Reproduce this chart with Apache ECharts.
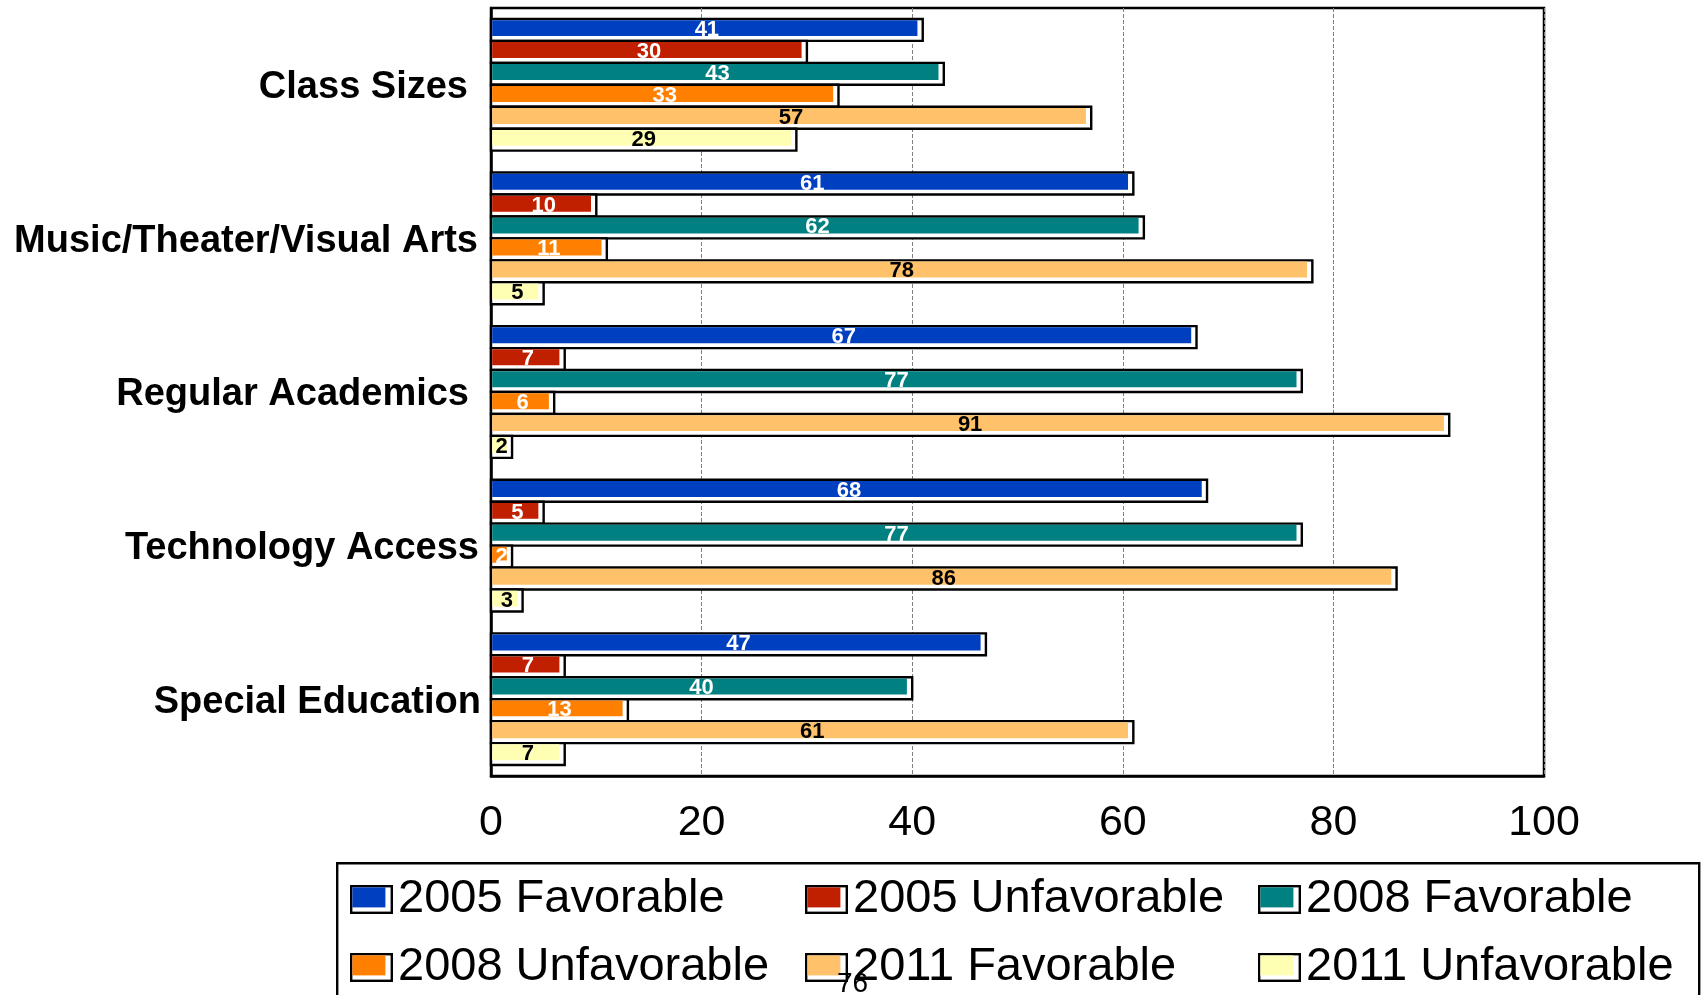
<!DOCTYPE html>
<html>
<head>
<meta charset="utf-8">
<script src="https://cdn.jsdelivr.net/npm/echarts@6/dist/echarts.min.js"></script>
<style>
  html, body { margin: 0; padding: 0; background: #fff; }
  #chart { width: 1701px; height: 995px; }
</style>
</head>
<body>
<div id="chart"></div>
<script>
// Survey areas, top to bottom
const categories = ['Class Sizes', 'Music/Theater/Visual Arts', 'Regular Academics', 'Technology Access', 'Special Education'];

// Percent responses per area
const fav2005   = [41, 61, 67, 68, 47];
const unfav2005 = [30, 10, 7, 5, 7];
const fav2008   = [43, 62, 77, 77, 40];
const unfav2008 = [33, 11, 6, 2, 13];
const fav2011   = [57, 78, 91, 86, 61];
const unfav2011 = [29, 5, 2, 3, 7];

const seriesNames = ['2005 Favorable', '2005 Unfavorable', '2008 Favorable', '2008 Unfavorable', '2011 Favorable', '2011 Unfavorable'];
const seriesValues = [fav2005, unfav2005, fav2008, unfav2008, fav2011, unfav2011];
const xTicks = [0, 20, 40, 60, 80, 100];

const colors = ['#0040C0', '#C02000', '#008080', '#FF8000', '#FFC16A', '#FFFFB4'];
const labelColors = ['#fff', '#fff', '#fff', '#fff', '#000', '#000'];
const FONT = '"Liberation Sans", Arial, Helvetica, sans-serif';

// Boxed legend swatch: black frame, colour block with a white strip right and below
function swatch(color) {
  const svg = "<svg xmlns='http://www.w3.org/2000/svg' width='43' height='29'>" +
    "<rect x='1.2' y='1.2' width='40.6' height='26.6' fill='#fff' stroke='#000' stroke-width='2.4'/>" +
    "<rect x='2.4' y='2.4' width='33' height='20' fill='" + color + "'/></svg>";
  return 'image://data:image/svg+xml;charset=utf-8,' + encodeURIComponent(svg);
}

function makeSeries(i) {
  return {
    type: 'custom',
    name: seriesNames[i],
    itemStyle: { color: colors[i] },
    data: seriesValues[i].map((v, j) => [v, j]),
    renderItem: function (params, api) {
      const v = api.value(0);
      const j = api.value(1);
      const p0 = api.coord([0, j]);
      const p1 = api.coord([v, j]);
      const band = api.size([0, 1])[1];
      const h = band / 7;
      const y0 = p0[1] - 3 * h + i * h;
      const x0 = p0[0];
      const x1 = p1[0];
      const w = x1 - x0;
      return {
        type: 'group',
        children: [
          { type: 'rect', shape: { x: x0, y: y0, width: w, height: h },
            style: { fill: '#fff', stroke: '#000', lineWidth: 2.4 } },
          { type: 'rect', shape: { x: x0 + 1.2, y: y0 + 1.2, width: Math.max(0, w - 6.5), height: h - 6 },
            style: { fill: colors[i] } },
          { type: 'text',
            style: { text: String(v), x: x0 + w / 2, y: y0 + h / 2, align: 'center', verticalAlign: 'middle',
                     fill: labelColors[i], fontSize: 22, fontWeight: 'bold', fontFamily: FONT } }
        ]
      };
    }
  };
}

function legendColumn(left, names) {
  return {
    orient: 'vertical',
    left: left,
    top: 876,
    padding: 0,
    itemWidth: 43,
    itemHeight: 29,
    itemGap: 21,
    selectedMode: false,
    textStyle: { fontSize: 47, fontFamily: FONT, color: '#000' },
    data: names.map(n => ({ name: n, icon: swatch(colors[seriesNames.indexOf(n)]) }))
  };
}

// Category label styles: right padding per label keeps the original ragged right edge
const catLabelBase = { fontSize: 38, fontWeight: 'bold', fontFamily: FONT, color: '#000' };
const catRich = {
  c0: Object.assign({ padding: [6, 13, 0, 0] }, catLabelBase),
  c1: Object.assign({ padding: [6, 3, 0, 0] }, catLabelBase),
  c2: Object.assign({ padding: [6, 12, 0, 0] }, catLabelBase),
  c3: Object.assign({ padding: [6, 2, 0, 0] }, catLabelBase),
  c4: Object.assign({ padding: [6, 0, 0, 0] }, catLabelBase)
};

const chart = echarts.init(document.getElementById('chart'), null, { renderer: 'canvas' });
chart.setOption({
  backgroundColor: '#fff',
  animation: false,
  grid: {
    left: 491, right: 157, top: 8, bottom: 219,
    show: true, borderColor: '#000', borderWidth: 2.5, backgroundColor: 'transparent'
  },
  xAxis: {
    type: 'value',
    min: xTicks[0],
    max: xTicks[xTicks.length - 1],
    interval: xTicks[1] - xTicks[0],
    axisLine: { show: true, lineStyle: { color: '#000', width: 2.5 } },
    axisTick: { show: false },
    splitLine: { show: true, lineStyle: { color: '#808080', width: 1, type: [4, 2] } },
    axisLabel: { fontSize: 43, fontFamily: FONT, color: '#000', margin: 26 }
  },
  yAxis: {
    type: 'category',
    inverse: true,
    data: categories,
    axisLine: { show: true, lineStyle: { color: '#000', width: 2.5 } },
    axisTick: { show: false },
    splitLine: { show: false },
    axisLabel: {
      margin: 10,
      formatter: function (value, index) { return '{c' + index + '|' + value + '}'; },
      rich: catRich
    }
  },
  legend: [
    legendColumn(350, ['2005 Favorable', '2008 Unfavorable']),
    legendColumn(805, ['2005 Unfavorable', '2011 Favorable']),
    legendColumn(1258, ['2008 Favorable', '2011 Unfavorable'])
  ],
  graphic: [
    { type: 'rect', left: 336, top: 862, z: -1,
      shape: { width: 1362, height: 200 },
      style: { fill: '#fff', stroke: '#000', lineWidth: 2.4 } },
    { type: 'text', left: 837, top: 970, z: 10,
      style: { text: '76', fontSize: 28, fontFamily: FONT, fill: '#000' } }
  ],
  series: seriesNames.map((n, i) => makeSeries(i))
});
</script>
</body>
</html>
